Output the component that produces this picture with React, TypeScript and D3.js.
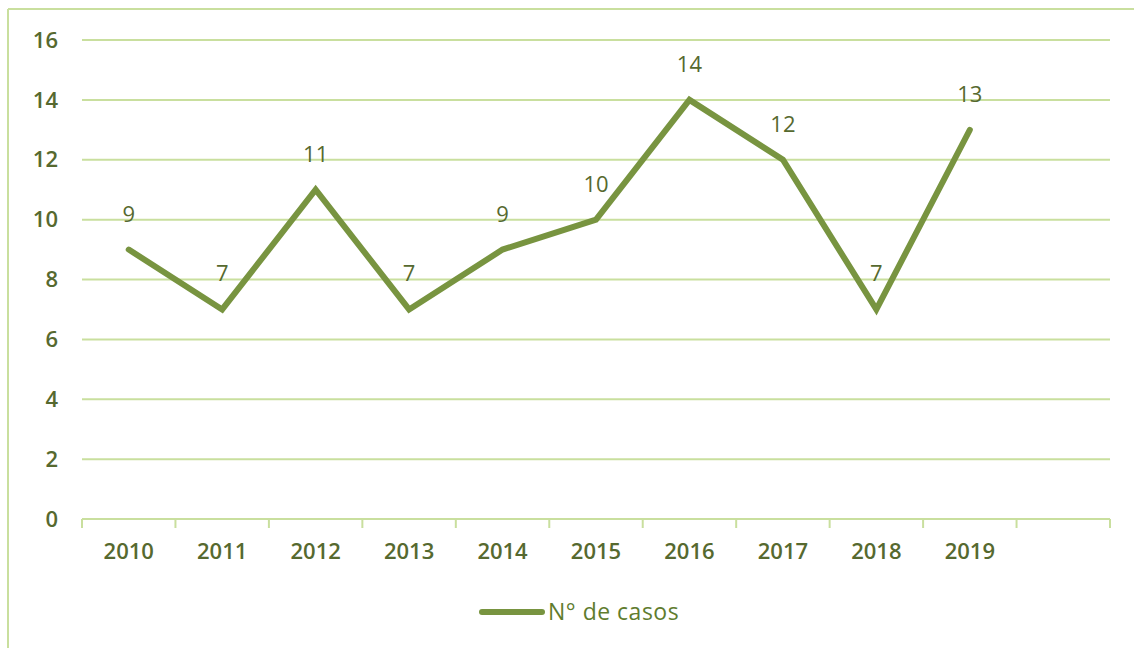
import React from "react";
import * as d3 from "d3";

const categories = ["2010", "2011", "2012", "2013", "2014", "2015", "2016", "2017", "2018", "2019", ""];
const values = [9, 7, 11, 7, 9, 10, 14, 12, 7, 13];
const yTicks = [0, 2, 4, 6, 8, 10, 12, 14, 16];
const seriesName = "N° de casos";

const W = 1134;
const H = 648;
const LINE = "#789440";
const GRID = "#C9DF9E";
const TEXT = "#56692F";
const FONT = "'Open Sans', 'DejaVu Sans', sans-serif";

export default function App() {
  const x = d3.scaleBand<string>().domain(categories).range([82, 1110]).paddingInner(0).paddingOuter(0);
  const y = d3.scaleLinear().domain([0, 16]).range([519, 40]);
  const pts = values.map((v, i) => [x(categories[i])! + x.bandwidth() / 2, y(v)] as [number, number]);
  const line = d3.line();
  const tickXs = categories.map((c) => x(c)!).concat([x.range()[1]]);

  return (
    <svg width={W} height={H} style={{ position: "absolute", left: 0, top: 0, background: "#fff" }}>
      <line x1={8} y1={9} x2={W} y2={9} stroke={GRID} strokeWidth={2} />
      <line x1={8} y1={9} x2={8} y2={H} stroke={GRID} strokeWidth={2} />
      {yTicks.map((t) => (
        <g key={t}>
          <line x1={82} x2={1110} y1={y(t)} y2={y(t)} stroke={GRID} strokeWidth={2} />
          <text x={58} y={y(t)} dy="0.35em" textAnchor="end" fontFamily={FONT} fontWeight={600} fontSize={22} fill={TEXT}>
            {t}
          </text>
        </g>
      ))}
      {tickXs.map((tx, i) => (
        <line key={i} x1={tx} x2={tx} y1={y(0)} y2={y(0) + 9} stroke={GRID} strokeWidth={2} />
      ))}
      {categories.map((c) =>
        c ? (
          <text key={c} x={x(c)! + x.bandwidth() / 2} y={559} textAnchor="middle" fontFamily={FONT} fontWeight={600} fontSize={22} fill={TEXT}>
            {c}
          </text>
        ) : null
      )}
      <path d={line(pts) || ""} fill="none" stroke={LINE} strokeWidth={6} strokeLinejoin="miter" strokeLinecap="round" />
      {pts.map((p, i) => (
        <text key={i} x={p[0]} y={p[1] - 28} textAnchor="middle" fontFamily={FONT} fontWeight={500} fontSize={22} fill={TEXT}>
          {values[i]}
        </text>
      ))}
      <line x1={482} x2={542} y1={612} y2={612} stroke={LINE} strokeWidth={6} strokeLinecap="round" />
      <text x={548} y={612} dy="0.35em" fontFamily={FONT} fontSize={23} letterSpacing={0.5} fill="#607C2E">
        {seriesName}
      </text>
    </svg>
  );
}
